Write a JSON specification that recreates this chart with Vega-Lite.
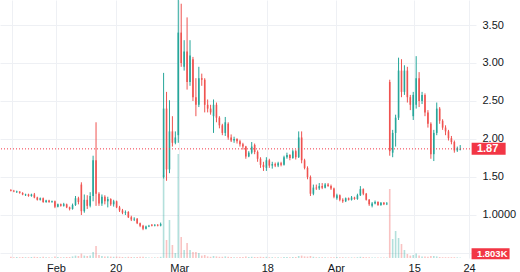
{
"$schema": "https://vega.github.io/schema/vega-lite/v6.json",
"width": 476, "height": 258,
"autosize": {"type": "none"},
"padding": {"left": 0, "top": 0, "right": 44, "bottom": 14},
"background": "white",
"config": {"view": {"stroke": null}, "font": "Liberation Sans"},
"datasets": {
"ohlc": [
{"i":2,"o":1.33,"h":1.34,"l":1.31,"c":1.32,"v":6},
{"i":3,"o":1.32,"h":1.33,"l":1.30,"c":1.31,"v":4},
{"i":4,"o":1.30,"h":1.32,"l":1.29,"c":1.31,"v":5},
{"i":5,"o":1.31,"h":1.31,"l":1.28,"c":1.29,"v":4},
{"i":6,"o":1.29,"h":1.30,"l":1.26,"c":1.27,"v":5},
{"i":7,"o":1.26,"h":1.28,"l":1.25,"c":1.27,"v":4},
{"i":8,"o":1.27,"h":1.28,"l":1.24,"c":1.25,"v":4},
{"i":9,"o":1.25,"h":1.28,"l":1.24,"c":1.27,"v":5},
{"i":10,"o":1.27,"h":1.29,"l":1.22,"c":1.23,"v":6},
{"i":11,"o":1.23,"h":1.24,"l":1.19,"c":1.20,"v":5},
{"i":12,"o":1.20,"h":1.23,"l":1.19,"c":1.22,"v":4},
{"i":13,"o":1.22,"h":1.23,"l":1.16,"c":1.17,"v":6},
{"i":14,"o":1.17,"h":1.20,"l":1.16,"c":1.19,"v":4},
{"i":15,"o":1.19,"h":1.20,"l":1.16,"c":1.17,"v":4},
{"i":16,"o":1.17,"h":1.19,"l":1.16,"c":1.18,"v":3},
{"i":17,"o":1.18,"h":1.19,"l":1.09,"c":1.11,"v":7},
{"i":18,"o":1.11,"h":1.15,"l":1.10,"c":1.14,"v":5},
{"i":19,"o":1.14,"h":1.15,"l":1.11,"c":1.12,"v":4},
{"i":20,"o":1.12,"h":1.16,"l":1.11,"c":1.14,"v":4},
{"i":21,"o":1.14,"h":1.15,"l":1.09,"c":1.10,"v":5},
{"i":22,"o":1.10,"h":1.11,"l":1.06,"c":1.08,"v":5},
{"i":23,"o":1.08,"h":1.15,"l":1.07,"c":1.13,"v":8},
{"i":24,"o":1.13,"h":1.25,"l":1.12,"c":1.22,"v":12},
{"i":25,"o":1.22,"h":1.24,"l":1.14,"c":1.17,"v":10},
{"i":26,"o":1.40,"h":1.43,"l":1.00,"c":1.05,"v":22},
{"i":27,"o":1.05,"h":1.27,"l":1.03,"c":1.20,"v":12},
{"i":28,"o":1.20,"h":1.26,"l":1.08,"c":1.12,"v":10},
{"i":29,"o":1.12,"h":1.30,"l":1.10,"c":1.25,"v":12},
{"i":30,"o":1.25,"h":1.78,"l":1.18,"c":1.72,"v":30},
{"i":31,"o":1.72,"h":2.22,"l":1.12,"c":1.28,"v":60},
{"i":32,"o":1.28,"h":1.30,"l":1.12,"c":1.15,"v":15},
{"i":33,"o":1.15,"h":1.27,"l":1.12,"c":1.24,"v":10},
{"i":34,"o":1.24,"h":1.26,"l":1.14,"c":1.18,"v":8},
{"i":35,"o":1.18,"h":1.24,"l":1.10,"c":1.21,"v":8},
{"i":36,"o":1.21,"h":1.22,"l":1.12,"c":1.14,"v":7},
{"i":37,"o":1.14,"h":1.20,"l":1.11,"c":1.18,"v":6},
{"i":38,"o":1.18,"h":1.19,"l":1.09,"c":1.10,"v":7},
{"i":39,"o":1.10,"h":1.12,"l":1.04,"c":1.06,"v":6},
{"i":40,"o":1.06,"h":1.08,"l":1.01,"c":1.03,"v":5},
{"i":41,"o":1.03,"h":1.06,"l":1.00,"c":1.04,"v":4},
{"i":42,"o":1.04,"h":1.05,"l":0.96,"c":0.97,"v":6},
{"i":43,"o":0.97,"h":0.99,"l":0.92,"c":0.94,"v":5},
{"i":44,"o":0.94,"h":0.97,"l":0.92,"c":0.95,"v":4},
{"i":45,"o":0.95,"h":0.96,"l":0.88,"c":0.89,"v":5},
{"i":46,"o":0.89,"h":0.90,"l":0.84,"c":0.86,"v":6},
{"i":47,"o":0.86,"h":0.87,"l":0.80,"c":0.82,"v":6},
{"i":48,"o":0.82,"h":0.86,"l":0.81,"c":0.85,"v":4},
{"i":49,"o":0.85,"h":0.87,"l":0.84,"c":0.86,"v":3},
{"i":50,"o":0.87,"h":0.88,"l":0.85,"c":0.86,"v":3},
{"i":51,"o":0.86,"h":0.88,"l":0.85,"c":0.87,"v":3},
{"i":52,"o":0.87,"h":0.88,"l":0.85,"c":0.86,"v":3},
{"i":53,"o":0.86,"h":0.90,"l":0.85,"c":0.88,"v":6},
{"i":54,"o":1.50,"h":2.87,"l":1.48,"c":2.40,"v":415},
{"i":55,"o":2.40,"h":2.62,"l":1.45,"c":1.60,"v":90},
{"i":56,"o":1.60,"h":2.51,"l":1.55,"c":2.10,"v":190},
{"i":57,"o":2.10,"h":2.30,"l":1.90,"c":1.95,"v":65},
{"i":58,"o":1.95,"h":2.10,"l":1.93,"c":2.02,"v":25},
{"i":59,"o":2.05,"h":3.90,"l":1.95,"c":3.40,"v":520},
{"i":60,"o":3.40,"h":3.78,"l":2.95,"c":3.00,"v":105},
{"i":61,"o":2.95,"h":3.30,"l":2.90,"c":3.15,"v":40},
{"i":62,"o":3.15,"h":3.60,"l":2.65,"c":2.75,"v":75},
{"i":63,"o":2.75,"h":3.30,"l":2.70,"c":3.10,"v":40},
{"i":64,"o":3.05,"h":3.08,"l":2.50,"c":2.55,"v":30},
{"i":65,"o":2.55,"h":2.80,"l":2.30,"c":2.45,"v":30},
{"i":66,"o":2.45,"h":2.95,"l":2.42,"c":2.80,"v":25},
{"i":67,"o":2.80,"h":2.86,"l":2.70,"c":2.78,"v":12},
{"i":68,"o":2.78,"h":2.80,"l":2.35,"c":2.45,"v":15},
{"i":69,"o":2.45,"h":2.52,"l":2.35,"c":2.40,"v":8},
{"i":70,"o":2.40,"h":2.45,"l":2.32,"c":2.35,"v":6},
{"i":71,"o":2.30,"h":2.52,"l":2.08,"c":2.45,"v":10},
{"i":72,"o":2.45,"h":2.48,"l":2.22,"c":2.28,"v":8},
{"i":73,"o":2.28,"h":2.30,"l":2.14,"c":2.18,"v":6},
{"i":74,"o":2.18,"h":2.20,"l":2.05,"c":2.08,"v":6},
{"i":75,"o":2.08,"h":2.29,"l":2.04,"c":2.22,"v":8},
{"i":76,"o":2.20,"h":2.22,"l":1.99,"c":2.02,"v":6},
{"i":77,"o":2.02,"h":2.06,"l":1.96,"c":1.98,"v":5},
{"i":78,"o":1.98,"h":2.03,"l":1.95,"c":2.00,"v":4},
{"i":79,"o":2.00,"h":2.01,"l":1.94,"c":1.97,"v":4},
{"i":80,"o":1.97,"h":1.99,"l":1.90,"c":1.93,"v":5},
{"i":81,"o":1.93,"h":1.95,"l":1.86,"c":1.90,"v":5},
{"i":82,"o":1.90,"h":1.91,"l":1.74,"c":1.77,"v":7},
{"i":83,"o":1.77,"h":1.84,"l":1.76,"c":1.82,"v":5},
{"i":84,"o":1.82,"h":1.96,"l":1.80,"c":1.90,"v":6},
{"i":85,"o":1.92,"h":1.94,"l":1.80,"c":1.83,"v":5},
{"i":86,"o":1.83,"h":1.85,"l":1.70,"c":1.74,"v":5},
{"i":87,"o":1.74,"h":1.76,"l":1.62,"c":1.66,"v":6},
{"i":88,"o":1.66,"h":1.70,"l":1.58,"c":1.63,"v":5},
{"i":89,"o":1.62,"h":1.76,"l":1.58,"c":1.72,"v":6},
{"i":90,"o":1.72,"h":1.74,"l":1.62,"c":1.65,"v":4},
{"i":91,"o":1.65,"h":1.70,"l":1.61,"c":1.67,"v":4},
{"i":92,"o":1.67,"h":1.69,"l":1.63,"c":1.65,"v":3},
{"i":93,"o":1.65,"h":1.70,"l":1.63,"c":1.68,"v":4},
{"i":94,"o":1.68,"h":1.70,"l":1.64,"c":1.66,"v":3},
{"i":95,"o":1.66,"h":1.78,"l":1.65,"c":1.76,"v":5},
{"i":96,"o":1.76,"h":1.82,"l":1.74,"c":1.79,"v":5},
{"i":97,"o":1.79,"h":1.80,"l":1.72,"c":1.75,"v":4},
{"i":98,"o":1.75,"h":1.86,"l":1.74,"c":1.84,"v":5},
{"i":99,"o":1.84,"h":1.86,"l":1.73,"c":1.76,"v":5},
{"i":100,"o":1.76,"h":2.10,"l":1.75,"c":2.02,"v":10},
{"i":101,"o":2.02,"h":2.10,"l":1.68,"c":1.72,"v":12},
{"i":102,"o":1.72,"h":1.74,"l":1.60,"c":1.62,"v":8},
{"i":103,"o":1.62,"h":1.64,"l":1.47,"c":1.50,"v":7},
{"i":104,"o":1.50,"h":1.52,"l":1.25,"c":1.28,"v":10},
{"i":105,"o":1.28,"h":1.40,"l":1.26,"c":1.36,"v":6},
{"i":106,"o":1.36,"h":1.40,"l":1.33,"c":1.35,"v":4},
{"i":107,"o":1.35,"h":1.42,"l":1.33,"c":1.38,"v":4},
{"i":108,"o":1.38,"h":1.42,"l":1.34,"c":1.36,"v":4},
{"i":109,"o":1.36,"h":1.42,"l":1.35,"c":1.40,"v":4},
{"i":110,"o":1.40,"h":1.42,"l":1.37,"c":1.38,"v":3},
{"i":111,"o":1.38,"h":1.40,"l":1.33,"c":1.35,"v":4},
{"i":112,"o":1.35,"h":1.36,"l":1.22,"c":1.24,"v":4},
{"i":113,"o":1.22,"h":1.28,"l":1.20,"c":1.26,"v":5},
{"i":114,"o":1.26,"h":1.27,"l":1.18,"c":1.20,"v":4},
{"i":115,"o":1.20,"h":1.22,"l":1.16,"c":1.18,"v":4},
{"i":116,"o":1.18,"h":1.23,"l":1.17,"c":1.22,"v":3},
{"i":117,"o":1.22,"h":1.23,"l":1.19,"c":1.20,"v":3},
{"i":118,"o":1.20,"h":1.25,"l":1.19,"c":1.23,"v":3},
{"i":119,"o":1.23,"h":1.24,"l":1.20,"c":1.21,"v":3},
{"i":120,"o":1.21,"h":1.28,"l":1.20,"c":1.26,"v":4},
{"i":121,"o":1.26,"h":1.38,"l":1.25,"c":1.34,"v":6},
{"i":122,"o":1.34,"h":1.35,"l":1.26,"c":1.28,"v":5},
{"i":123,"o":1.28,"h":1.29,"l":1.19,"c":1.20,"v":4},
{"i":124,"o":1.20,"h":1.21,"l":1.12,"c":1.14,"v":4},
{"i":125,"o":1.12,"h":1.17,"l":1.10,"c":1.15,"v":3},
{"i":126,"o":1.15,"h":1.19,"l":1.14,"c":1.17,"v":3},
{"i":127,"o":1.17,"h":1.18,"l":1.12,"c":1.13,"v":3},
{"i":128,"o":1.13,"h":1.17,"l":1.12,"c":1.16,"v":3},
{"i":129,"o":1.16,"h":1.17,"l":1.13,"c":1.14,"v":3},
{"i":130,"o":1.14,"h":1.17,"l":1.13,"c":1.15,"v":3},
{"i":131,"o":2.75,"h":2.78,"l":1.78,"c":1.84,"v":345},
{"i":132,"o":1.82,"h":2.12,"l":1.76,"c":2.08,"v":95},
{"i":133,"o":2.08,"h":2.32,"l":1.90,"c":2.28,"v":135},
{"i":134,"o":2.28,"h":3.07,"l":2.25,"c":2.90,"v":100},
{"i":135,"o":2.90,"h":3.05,"l":2.55,"c":2.62,"v":70},
{"i":136,"o":2.62,"h":2.97,"l":2.58,"c":2.90,"v":40},
{"i":137,"o":2.90,"h":2.95,"l":2.48,"c":2.55,"v":20},
{"i":138,"o":2.55,"h":2.58,"l":2.38,"c":2.45,"v":12},
{"i":139,"o":2.30,"h":2.62,"l":2.25,"c":2.58,"v":15},
{"i":140,"o":2.45,"h":3.09,"l":2.40,"c":2.80,"v":22},
{"i":141,"o":2.80,"h":2.88,"l":2.42,"c":2.50,"v":12},
{"i":142,"o":2.50,"h":2.62,"l":2.46,"c":2.58,"v":8},
{"i":143,"o":2.58,"h":2.60,"l":2.30,"c":2.35,"v":8},
{"i":144,"o":2.35,"h":2.38,"l":2.15,"c":2.20,"v":6},
{"i":145,"o":2.20,"h":2.22,"l":1.74,"c":1.80,"v":10},
{"i":146,"o":1.80,"h":2.12,"l":1.71,"c":2.08,"v":10},
{"i":147,"o":2.08,"h":2.48,"l":2.05,"c":2.40,"v":8},
{"i":148,"o":2.40,"h":2.42,"l":2.20,"c":2.24,"v":5},
{"i":149,"o":2.24,"h":2.26,"l":2.12,"c":2.15,"v":4},
{"i":150,"o":2.15,"h":2.18,"l":2.05,"c":2.10,"v":4},
{"i":151,"o":2.10,"h":2.12,"l":1.98,"c":2.01,"v":4},
{"i":152,"o":2.01,"h":2.04,"l":1.93,"c":1.96,"v":4},
{"i":153,"o":1.96,"h":1.98,"l":1.82,"c":1.85,"v":4},
{"i":154,"o":1.85,"h":1.90,"l":1.83,"c":1.88,"v":3},
{"i":155,"o":1.86,"h":1.92,"l":1.85,"c":1.87,"v":1.803}
],
"last": [{"c": 1.87, "v": 1.803, "vlabel": "1.803K"}]
},
"layer": [
{
"data": {"name": "ohlc"},
"mark": {"type": "bar", "size": 1.6, "clip": true, "opacity": 0.35},
"encoding": {
"x": {"field": "i", "type": "quantitative", "scale": {"domain": [0, 158.667], "nice": false, "zero": false},
"axis": {"orient": "bottom", "values": [2.33, 17.33, 37.67, 59.33, 89.33, 112.67, 139.33, 158], "labelExpr": "datum.value < 5 ? '' : datum.value < 20 ? 'Feb' : datum.value < 40 ? '20' : datum.value < 60 ? 'Mar' : datum.value < 90 ? '18' : datum.value < 120 ? 'Apr' : datum.value < 150 ? '15' : '24'", "title": null, "domain": false, "ticks": false, "labelPadding": 4, "labelFontSize": 11, "labelColor": "#131722", "grid": true, "gridColor": "#eef0f4", "labelFlush": false, "labelOverlap": false, "labelBound": false}},
"y": {"field": "v", "type": "quantitative", "scale": {"domain": [0, 1290], "nice": false}, "axis": null},
"color": {"condition": {"test": "datum.c < datum.o", "value": "#ef5350"}, "value": "#26a69a"}
}
},
{
"data": {"name": "ohlc"},
"encoding": {
"x": {"field": "i", "type": "quantitative"},
"color": {"condition": {"test": "datum.c < datum.o", "value": "#ef5350"}, "value": "#26a69a"}
},
"layer": [
{"mark": {"type": "rule", "strokeWidth": 1, "clip": true},
"encoding": {
"y": {"field": "l", "type": "quantitative", "scale": {"domain": [0.434, 3.829], "nice": false, "zero": false},
"axis": {"orient": "right", "values": [0.5, 1, 1.5, 2, 2.5, 3, 3.5], "labelExpr": "datum.value == 1 ? '1.0000' : datum.value == 0.5 ? '' : format(datum.value, '.2f')", "title": null, "domain": false, "ticks": false, "labelPadding": 6, "labelFontSize": 11, "labelColor": "#131722", "grid": true, "gridColor": "#eef0f4", "labelAlign": "left"}},
"y2": {"field": "h"}
}},
{"mark": {"type": "bar", "size": 1.6, "clip": true},
"encoding": {
"y": {"field": "o", "type": "quantitative"},
"y2": {"field": "c"}
}}
]
},
{
"data": {"name": "last"},
"layer": [
{"mark": {"type": "rule", "color": "#f23645", "strokeDash": [1, 2], "strokeWidth": 1},
"encoding": {"y": {"field": "c", "type": "quantitative", "scale": {"domain": [0.434, 3.829], "nice": false, "zero": false}, "axis": null}}},
{"mark": {"type": "tick", "orient": "horizontal", "size": 34, "thickness": 12, "color": "#f23645", "opacity": 1},
"encoding": {"x": {"datum": 164.67, "type": "quantitative"}, "y": {"field": "c", "type": "quantitative"}}},
{"mark": {"type": "text", "align": "left", "baseline": "middle", "color": "white", "fontSize": 11, "fontWeight": "bold"},
"encoding": {"x": {"datum": 160.67, "type": "quantitative"}, "y": {"field": "c", "type": "quantitative"}, "text": {"field": "c", "type": "quantitative", "format": ".2f"}}}
]
},
{
"data": {"name": "last"},
"layer": [
{"mark": {"type": "tick", "orient": "horizontal", "size": 38, "thickness": 11, "color": "#f23645", "opacity": 1, "yOffset": -4},
"encoding": {"x": {"datum": 165.33, "type": "quantitative"}, "y": {"field": "v", "type": "quantitative", "scale": {"domain": [0, 1290], "nice": false}, "axis": null}}},
{"mark": {"type": "text", "align": "left", "baseline": "middle", "color": "white", "fontSize": 9.5, "fontWeight": "bold", "yOffset": -4},
"encoding": {"x": {"datum": 160.67, "type": "quantitative"}, "y": {"field": "v", "type": "quantitative"}, "text": {"field": "vlabel"}}}
]
}
],
"resolve": {"scale": {"y": "independent"}}
}
